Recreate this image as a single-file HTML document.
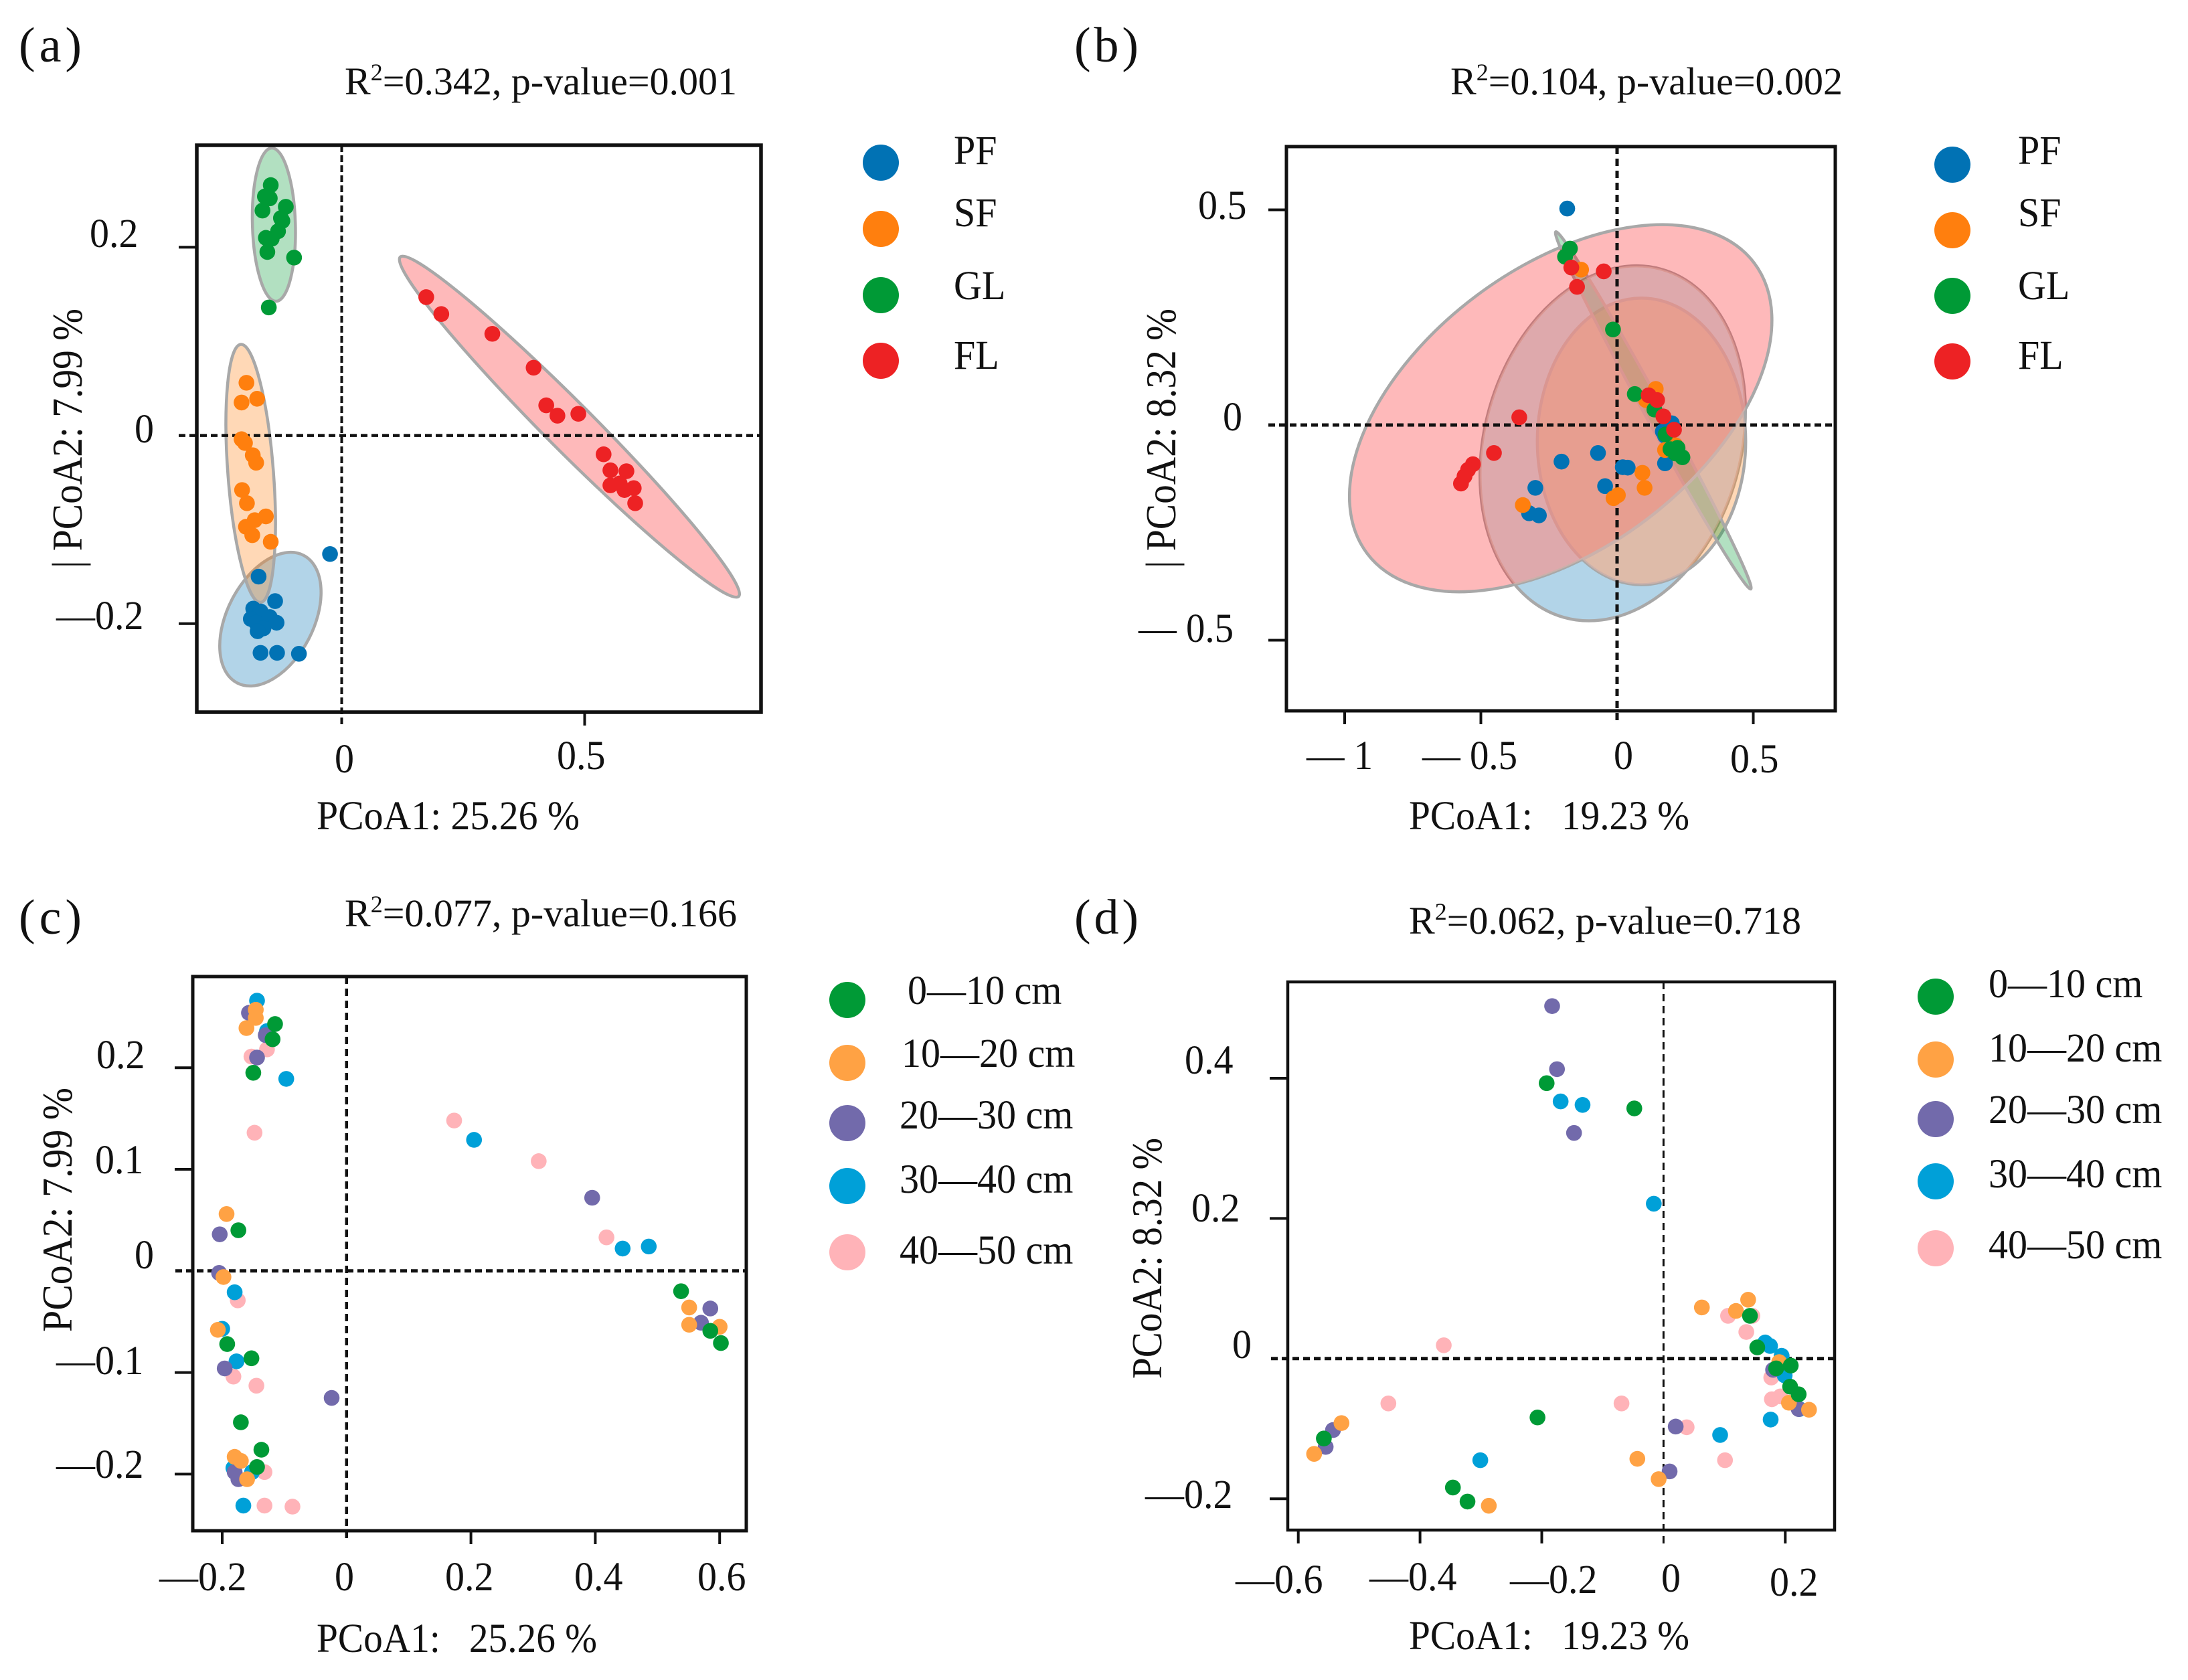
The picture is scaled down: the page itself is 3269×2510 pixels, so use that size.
<!DOCTYPE html>
<html lang="en">
<head>
<meta charset="utf-8">
<title>PCoA ordination panels</title>
<style>
html,body{margin:0;padding:0;background:#fff;}
svg{display:block;}
text{font-family:"Liberation Serif",serif;font-size:58px;fill:#111;}
.letter{font-size:74px;}
.ytitle{font-size:64px;}
</style>
</head>
<body>
<svg id="figure" xmlns="http://www.w3.org/2000/svg" width="3269" height="2510" viewBox="0 0 3269 2510">
<rect x="0" y="0" width="3269" height="2510" fill="#fff"/>
<g id="panel-a"></g>
<g id="panel-b"></g>
<g id="panel-c"></g>
<g id="panel-d"></g>

<!-- Panel a text -->
<text class="letter" x="28" y="92" textLength="94" lengthAdjust="spacing">(a)</text>
<text x="515" y="141">R<tspan dy="-21" style="font-size:36px">2</tspan><tspan dy="21">=0.342, p-value=0.001</tspan></text>
<text x="134" y="369">0.2</text>
<text x="201" y="661">0</text>
<text x="84" y="940">—0.2</text>
<text x="500" y="1154">0</text>
<text x="832" y="1149">0.5</text>
<text x="473" y="1239" textLength="393" lengthAdjust="spacingAndGlyphs">PCoA1: 25.26 %</text>
<text class="ytitle" transform="translate(122,849) rotate(-90)" textLength="388" lengthAdjust="spacingAndGlyphs">| PCoA2: 7.99 %</text>
<g>
<circle cx="1316" cy="243" r="27" fill="#0172b4"/>
<circle cx="1316" cy="342" r="27" fill="#ff7f0e"/>
<circle cx="1316" cy="441" r="27" fill="#009a36"/>
<circle cx="1316" cy="539" r="27" fill="#ed2224"/>
<text x="1425" y="245">PF</text>
<text x="1425" y="338">SF</text>
<text x="1425" y="447">GL</text>
<text x="1425" y="551">FL</text>
</g>

<!-- Panel b text -->
<text class="letter" x="1605" y="92" textLength="96" lengthAdjust="spacing">(b)</text>
<text x="2167" y="141">R<tspan dy="-21" style="font-size:36px">2</tspan><tspan dy="21">=0.104, p-value=0.002</tspan></text>
<text x="1790" y="327">0.5</text>
<text x="1827" y="643">0</text>
<text x="1701" y="959" textLength="142" lengthAdjust="spacing">— 0.5</text>
<text x="1952" y="1149" textLength="99" lengthAdjust="spacing">— 1</text>
<text x="2125" y="1149" textLength="142" lengthAdjust="spacing">— 0.5</text>
<text x="2411" y="1149">0</text>
<text x="2585" y="1154">0.5</text>
<text x="2105" y="1239" textLength="419" lengthAdjust="spacing">PCoA1:&#160;&#160; 19.23 %</text>
<text class="ytitle" transform="translate(1756,849) rotate(-90)" textLength="388" lengthAdjust="spacingAndGlyphs">| PCoA2: 8.32 %</text>
<g>
<circle cx="2917" cy="246" r="27" fill="#0172b4"/>
<circle cx="2917" cy="344" r="27" fill="#ff7f0e"/>
<circle cx="2917" cy="442" r="27" fill="#009a36"/>
<circle cx="2917" cy="540" r="27" fill="#ed2224"/>
<text x="3015" y="245">PF</text>
<text x="3015" y="338">SF</text>
<text x="3015" y="447">GL</text>
<text x="3015" y="551">FL</text>
</g>

<!-- Panel c text -->
<text class="letter" x="28" y="1395" textLength="94" lengthAdjust="spacing">(c)</text>
<text x="515" y="1384">R<tspan dy="-21" style="font-size:36px">2</tspan><tspan dy="21">=0.077, p-value=0.166</tspan></text>
<text x="144" y="1596">0.2</text>
<text x="142" y="1753">0.1</text>
<text x="201" y="1895">0</text>
<text x="84" y="2053">—0.1</text>
<text x="84" y="2208">—0.2</text>
<text x="238" y="2376">—0.2</text>
<text x="500" y="2376">0</text>
<text x="665" y="2376">0.2</text>
<text x="858" y="2376">0.4</text>
<text x="1042" y="2376">0.6</text>
<text x="473" y="2468" textLength="419" lengthAdjust="spacing">PCoA1:&#160;&#160; 25.26 %</text>
<text class="ytitle" transform="translate(107,1990) rotate(-90)" textLength="365" lengthAdjust="spacingAndGlyphs">PCoA2: 7.99 %</text>
<g>
<circle cx="1266" cy="1494" r="27" fill="#009a36"/>
<circle cx="1266" cy="1588" r="27" fill="#ffa244"/>
<circle cx="1266" cy="1678" r="27" fill="#726aab"/>
<circle cx="1266" cy="1772" r="27" fill="#00a0d8"/>
<circle cx="1266" cy="1871" r="27" fill="#ffb3b8"/>
<text x="1356" y="1500">0—10 cm</text>
<text x="1347" y="1594">10—20 cm</text>
<text x="1344" y="1686">20—30 cm</text>
<text x="1344" y="1782">30—40 cm</text>
<text x="1344" y="1888">40—50 cm</text>
</g>

<!-- Panel d text -->
<text class="letter" x="1605" y="1395" textLength="96" lengthAdjust="spacing">(d)</text>
<text x="2105" y="1395">R<tspan dy="-21" style="font-size:36px">2</tspan><tspan dy="21">=0.062, p-value=0.718</tspan></text>
<text x="1770" y="1604">0.4</text>
<text x="1780" y="1825">0.2</text>
<text x="1841" y="2029">0</text>
<text x="1711" y="2253">—0.2</text>
<text x="1846" y="2380">—0.6</text>
<text x="2046" y="2376">—0.4</text>
<text x="2256" y="2380">—0.2</text>
<text x="2482" y="2378">0</text>
<text x="2644" y="2384">0.2</text>
<text x="2105" y="2464" textLength="419" lengthAdjust="spacing">PCoA1:&#160;&#160; 19.23 %</text>
<text class="ytitle" transform="translate(1735,2060) rotate(-90)" textLength="360" lengthAdjust="spacingAndGlyphs">PCoA2: 8.32 %</text>
<g>
<circle cx="2892" cy="1489" r="27" fill="#009a36"/>
<circle cx="2892" cy="1583" r="27" fill="#ffa244"/>
<circle cx="2892" cy="1672" r="27" fill="#726aab"/>
<circle cx="2892" cy="1765" r="27" fill="#00a0d8"/>
<circle cx="2892" cy="1865" r="27" fill="#ffb3b8"/>
<text x="2971" y="1490">0—10 cm</text>
<text x="2971" y="1586">10—20 cm</text>
<text x="2971" y="1678">20—30 cm</text>
<text x="2971" y="1774">30—40 cm</text>
<text x="2971" y="1880">40—50 cm</text>
</g>
</svg>

<script>
// ---- Tick values per panel ----
const aXTicks = [0, 0.5];
const aYTicks = [0.2, 0, -0.2];
const bXTicks = [-1, -0.5, 0, 0.5];
const bYTicks = [0.5, 0, -0.5];
const cXTicks = [-0.2, 0, 0.2, 0.4, 0.6];
const cYTicks = [0.2, 0.1, 0, -0.1, -0.2];
const dXTicks = [-0.6, -0.4, -0.2, 0, 0.2];
const dYTicks = [0.4, 0.2, 0, -0.2];

// ---- Panel a: sample scores by land use [PCoA1, PCoA2] ----
const aPF = [[-0.024,-0.126],[-0.171,-0.150],[-0.137,-0.176],[-0.182,-0.184],[-0.167,-0.187],[-0.187,-0.195],[-0.176,-0.199],[-0.148,-0.193],[-0.134,-0.199],[-0.161,-0.205],[-0.173,-0.208],[-0.167,-0.231],[-0.133,-0.231],[-0.088,-0.232]];
const aSF = [[-0.196,0.056],[-0.174,0.039],[-0.206,0.035],[-0.206,-0.004],[-0.199,-0.008],[-0.183,-0.021],[-0.176,-0.029],[-0.205,-0.058],[-0.195,-0.072],[-0.156,-0.086],[-0.179,-0.090],[-0.197,-0.097],[-0.184,-0.106],[-0.146,-0.113]];
const aGL = [[-0.146,0.266],[-0.158,0.254],[-0.148,0.252],[-0.163,0.239],[-0.115,0.243],[-0.125,0.231],[-0.122,0.228],[-0.131,0.217],[-0.156,0.210],[-0.144,0.209],[-0.153,0.195],[-0.098,0.189],[-0.150,0.136]];
const aFL = [[0.174,0.147],[0.205,0.129],[0.310,0.108],[0.395,0.072],[0.421,0.032],[0.444,0.021],[0.487,0.023],[0.539,-0.020],[0.553,-0.037],[0.586,-0.038],[0.553,-0.053],[0.572,-0.051],[0.601,-0.056],[0.582,-0.058],[0.604,-0.072]];
// Confidence ellipses: major-axis endpoints in data units [x1,y1,x2,y2] and minor/major ratio
const aEllipsePF = [-0.0784,-0.1274,-0.215,-0.263,0.60];
const aEllipseSF = [-0.2075,0.0968,-0.167,-0.1774,0.176];
const aEllipseGL = [-0.144,0.3055,-0.135,0.1426,0.28];
const aEllipseFL = [0.1205,0.1896,0.817,-0.171,0.10];

// ---- Panel b ----
const bPF = [[-0.183,0.503],[-0.070,-0.065],[-0.204,-0.085],[0.021,-0.098],[0.039,-0.099],[-0.300,-0.146],[-0.044,-0.142],[-0.323,-0.205],[-0.287,-0.210],[0.176,-0.089],[0.176,-0.025],[0.201,0.004],[0.168,-0.015]];
const bSF = [[-0.132,0.361],[0.142,0.084],[0.106,0.058],[0.176,-0.058],[0.214,-0.047],[0.093,-0.111],[0.101,-0.146],[0.003,-0.163],[-0.013,-0.170],[-0.346,-0.186]];
const bGL = [[-0.173,0.410],[-0.191,0.391],[-0.015,0.222],[0.065,0.072],[0.137,0.036],[0.178,-0.022],[0.196,-0.056],[0.222,-0.053],[0.240,-0.075],[0.214,-0.066]];
const bFL = [[-0.168,0.366],[-0.049,0.357],[-0.147,0.321],[-0.359,0.018],[0.116,0.069],[0.147,0.058],[0.170,0.020],[0.209,-0.011],[-0.452,-0.065],[-0.529,-0.091],[-0.547,-0.104],[-0.560,-0.119],[-0.573,-0.136]];
const bEllipsePF = [0.163,0.362,-0.195,-0.447,0.709];
const bEllipseSF = [0.0897,0.295,0.0897,-0.371,0.727];
const bEllipseGL = [-0.225,0.449,0.491,-0.381,0.046];
const bEllipseFL = [0.504,0.376,-0.918,-0.298,0.581];

// ---- Panel c: sample scores by depth ----
const cDepth0 = [[-0.115,0.243],[-0.119,0.228],[-0.150,0.195],[-0.174,0.040],[-0.192,-0.072],[-0.153,-0.086],[-0.170,-0.149],[-0.137,-0.176],[-0.144,-0.193],[0.538,-0.020],[0.585,-0.059],[0.602,-0.071]];
const cDepth10 = [[-0.146,0.257],[-0.146,0.249],[-0.161,0.239],[-0.193,0.056],[-0.198,-0.006],[-0.207,-0.058],[0.551,-0.036],[0.551,-0.053],[0.600,-0.055],[-0.180,-0.183],[-0.170,-0.187],[-0.160,-0.205]];
const cDepth20 = [[-0.157,0.254],[-0.130,0.232],[-0.144,0.210],[0.395,0.072],[-0.204,0.036],[-0.205,-0.002],[0.585,-0.037],[0.570,-0.051],[-0.196,-0.096],[-0.024,-0.125],[-0.180,-0.198],[-0.174,-0.205]];
const cDepth30 = [[-0.144,0.266],[-0.128,0.236],[-0.097,0.189],[0.205,0.129],[0.444,0.022],[0.486,0.024],[-0.180,-0.021],[-0.200,-0.057],[-0.177,-0.089],[-0.182,-0.194],[-0.152,-0.198],[-0.166,-0.231]];
const cDepth40 = [[-0.128,0.218],[-0.153,0.211],[-0.148,0.136],[0.173,0.148],[0.309,0.108],[0.418,0.033],[-0.175,-0.029],[-0.182,-0.104],[-0.145,-0.113],[-0.132,-0.198],[-0.132,-0.231],[-0.087,-0.232]];

// ---- Panel d ----
const dDepth0 = [[-0.192,0.393],[-0.048,0.357],[0.142,0.061],[0.154,0.016],[0.185,-0.014],[0.209,-0.010],[0.208,-0.040],[0.222,-0.051],[-0.207,-0.084],[-0.558,-0.114],[-0.346,-0.184],[-0.322,-0.204]];
const dDepth10 = [[0.063,0.073],[0.139,0.084],[0.119,0.068],[0.190,-0.005],[0.206,-0.063],[0.239,-0.073],[-0.529,-0.092],[-0.574,-0.136],[-0.043,-0.143],[-0.008,-0.172],[-0.287,-0.210]];
const dDepth20 = [[-0.183,0.503],[-0.175,0.413],[-0.147,0.322],[0.180,-0.016],[0.222,-0.072],[-0.543,-0.102],[-0.555,-0.126],[0.020,-0.097],[0.010,-0.161]];
const dDepth30 = [[-0.169,0.367],[-0.133,0.362],[-0.016,0.221],[0.167,0.023],[0.175,0.018],[0.194,0.004],[0.199,-0.024],[0.223,-0.072],[0.176,-0.087],[0.093,-0.109],[-0.301,-0.145]];
const dDepth40 = [[-0.361,0.019],[-0.452,-0.064],[-0.069,-0.064],[0.106,0.061],[0.146,0.061],[0.136,0.038],[0.177,-0.027],[0.178,-0.058],[0.192,-0.054],[0.038,-0.098],[0.101,-0.145]];

const SVGNS = 'http://www.w3.org/2000/svg';
const COL = {pf:'#0172b4', sf:'#ff7f0e', gl:'#009a36', fl:'#ed2224',
  d0:'#009a36', d10:'#ffa244', d20:'#726aab', d30:'#00a0d8', d40:'#ffb3b8'};
const FILL = {pf:'#0072b2', sf:'#ff7f0e', gl:'#009933', fl:'#fc1619'};

function node(parent, tag, attrs) {
  const el = document.createElementNS(SVGNS, tag);
  for (const k in attrs) el.setAttribute(k, attrs[k]);
  parent.appendChild(el);
  return el;
}

function ellipseAttrs(sx, sy, e) {
  const x1 = sx(e[0]), y1 = sy(e[1]), x2 = sx(e[2]), y2 = sy(e[3]);
  const cx = (x1 + x2) / 2, cy = (y1 + y2) / 2;
  const rx = Math.hypot(x2 - x1, y2 - y1) / 2;
  const ang = Math.atan2(y2 - y1, x2 - x1) * 180 / Math.PI;
  return {cx:cx, cy:cy, rx:rx, ry:rx * e[4], transform:'rotate(' + ang + ' ' + cx + ' ' + cy + ')'};
}

function drawEllipse(g, sx, sy, e, key) {
  const el = node(g, 'ellipse', ellipseAttrs(sx, sy, e));
  el.setAttribute('fill', FILL[key]);
  el.setAttribute('fill-opacity', 0.3);
  el.setAttribute('stroke', '#a8a8a8');
  el.setAttribute('stroke-width', 4.5);
  
  
}

// Warms the region where one ellipse overlaps others, matching the reference's lighter mixed tones
function drawOverlapTint(g, sx, sy, base, others, clipId) {
  const defs = node(g, 'defs', {});
  const clip = node(defs, 'clipPath', {id:clipId});
  others.forEach(function (e) { node(clip, 'ellipse', ellipseAttrs(sx, sy, e)); });
  const tint = node(g, 'ellipse', ellipseAttrs(sx, sy, base));
  tint.setAttribute('fill', 'rgb(255,190,175)');
  tint.setAttribute('fill-opacity', 0.4);
  const wrap = node(g, 'g', {'clip-path':'url(#' + clipId + ')'});
  wrap.appendChild(tint);
  
  
}

function drawPoints(g, sx, sy, pts, key) {
  pts.forEach(function (p) {
    const el = node(g, 'circle', {cx:sx(p[0]), cy:sy(p[1]), r:11.8, fill:COL[key]});
    
    
  });
}

function drawPanel(cfg) {
  const g = document.getElementById(cfg.id);
  const sx = function (v) { return cfg.x0 + v * cfg.ux; };
  const sy = function (v) { return cfg.y0 - v * cfg.uy; };

  (cfg.ellipses || []).forEach(function (e) { drawEllipse(g, sx, sy, e[0], e[1]); });
  if (cfg.tint) drawOverlapTint(g, sx, sy, cfg.tint[0], cfg.tint[1], cfg.id + '-clip');

  const hz = node(g, 'line', {x1:cfg.dashLeft, x2:cfg.r, y1:sy(0), y2:sy(0), stroke:'#111',
    'stroke-width':cfg.hw, 'stroke-dasharray':'10 6'});
  
  
  const vt = node(g, 'line', {x1:sx(0), x2:sx(0), y1:cfg.t, y2:cfg.dashBottom, stroke:'#111',
    'stroke-width':cfg.vw, 'stroke-dasharray':cfg.vd});
  
  

  cfg.series.forEach(function (s) { drawPoints(g, sx, sy, s[0], s[1]); });

  cfg.xTicks.filter(function (v) { return v !== 0; }).forEach(function (v) {
    const t = node(g, 'line', {x1:sx(v), x2:sx(v), y1:cfg.b, y2:cfg.b + 20, stroke:'#111', 'stroke-width':4});
    
    
  });
  cfg.yTicks.filter(function (v) { return v !== 0; }).forEach(function (v) {
    const t = node(g, 'line', {x1:cfg.l - 27, x2:cfg.l, y1:sy(v), y2:sy(v), stroke:'#111', 'stroke-width':4});
    
    
  });

  const frame = node(g, 'rect', {x:cfg.l, y:cfg.t, width:cfg.r - cfg.l, height:cfg.b - cfg.t,
    fill:'none', stroke:'#111', 'stroke-width':cfg.fw});
  
  
}

drawPanel({id:'panel-a', l:294, t:217, r:1137, b:1064, x0:510.5, ux:726, y0:650.6, uy:1406,
  dashLeft:267, dashBottom:1082, hw:4.5, vw:4, vd:'10 5', fw:5.5, xTicks:aXTicks, yTicks:aYTicks,
  ellipses:[[aEllipsePF,'pf'],[aEllipseSF,'sf'],[aEllipseGL,'gl'],[aEllipseFL,'fl']],
  series:[[aPF,'pf'],[aSF,'sf'],[aGL,'gl'],[aFL,'fl']]});

drawPanel({id:'panel-b', l:1922, t:219, r:2742, b:1062, x0:2416, ux:407, y0:635, uy:643,
  dashLeft:1895, dashBottom:1082, hw:5, vw:5, vd:'11 7', fw:5, xTicks:bXTicks, yTicks:bYTicks,
  ellipses:[[bEllipsePF,'pf'],[bEllipseSF,'sf'],[bEllipseGL,'gl'],[bEllipseFL,'fl']],
  tint:[bEllipsePF,[bEllipseSF,bEllipseFL]],
  series:[[bPF,'pf'],[bSF,'sf'],[bGL,'gl'],[bFL,'fl']]});

drawPanel({id:'panel-c', l:288, t:1459, r:1115, b:2287, x0:517.8, ux:929, y0:1898.8, uy:1518,
  dashLeft:262, dashBottom:2302, hw:5, vw:4.5, vd:'11 7', fw:5, xTicks:cXTicks, yTicks:cYTicks,
  series:[[cDepth40,'d40'],[cDepth30,'d30'],[cDepth20,'d20'],[cDepth10,'d10'],[cDepth0,'d0']]});

drawPanel({id:'panel-d', l:1924, t:1467, r:2741, b:2286, x0:2485.4, ux:909.5, y0:2029.8, uy:1047,
  dashLeft:1899, dashBottom:2306, hw:5, vw:3, vd:'11 7', fw:4.5, xTicks:dXTicks, yTicks:dYTicks,
  series:[[dDepth40,'d40'],[dDepth30,'d30'],[dDepth20,'d20'],[dDepth10,'d10'],[dDepth0,'d0']]});

// The reference's lettering is slightly taller than its width implies: raise the size, keep the width.
document.querySelectorAll('#figure text').forEach(function (el) {
  if (el.hasAttribute('transform') || el.classList.contains('letter') || el.querySelector('tspan')) return;
  if (!el.hasAttribute('textLength')) el.setAttribute('textLength', el.getComputedTextLength().toFixed(1));
  el.setAttribute('lengthAdjust', 'spacingAndGlyphs');
  el.style.fontSize = '61px';
});
</script>
</body>
</html>
